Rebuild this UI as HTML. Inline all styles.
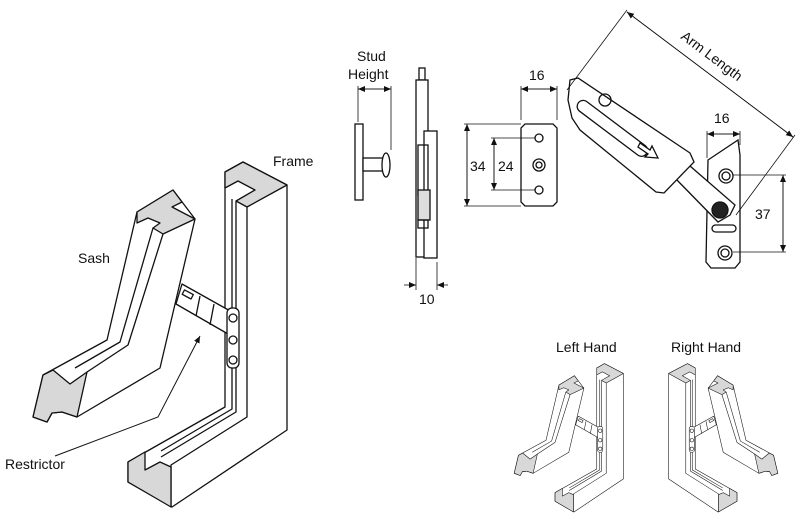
<!DOCTYPE html>
<html><head><meta charset="utf-8"><style>
html,body{margin:0;padding:0;background:#fff;}
svg{display:block;}
text{font-family:"Liberation Sans",Arial,sans-serif;fill:#111;}
</style></head><body>
<svg width="800" height="525" viewBox="0 0 800 525" xmlns="http://www.w3.org/2000/svg">
<defs>
<marker id="ar" markerWidth="8" markerHeight="8" refX="7" refY="4" orient="auto" markerUnits="userSpaceOnUse"><path d="M0,1 L7,4 L0,7 z" fill="#111"/></marker>
<g id="fig" stroke="#111" stroke-width="1.3" stroke-linejoin="round" fill="none">
  <polygon points="225,172 243,162 287,185 287,430 172,507 128,482 128,462 225,407" fill="#fff"/>
  <polygon points="225,172 243,162 287,185 247,207 236,201 255,190 238,181 225,188" fill="#d8d8d8"/>
  <polyline points="247,207 247,417 171,465 171,507"/>
  <polyline points="236,201 236,412 161,457"/>
  <polyline points="232,199 232,409 161,451"/>
  <polygon points="128,462 145,452 145,470 160,462 171,467 171,507 128,482" fill="#d8d8d8"/>
  <polygon points="182,284 232,312 228,334 176,304" fill="#fff"/>
  <line x1="200" y1="296" x2="196" y2="316"/>
  <line x1="214" y1="304" x2="210" y2="325"/>
  <rect x="183" y="292" width="10" height="5" transform="rotate(28 188 294)"/>
  <rect x="227" y="308" width="12" height="60" rx="5" fill="#fff"/>
  <circle cx="233" cy="318" r="4"/><circle cx="233" cy="340" r="4"/><circle cx="233" cy="360" r="4"/>
  <polygon points="137,212 173,190 195,219 160,368 77,417 62,412 52,413 47,422 33,417 43,375 107,340" fill="#fff"/>
  <polygon points="137,212 173,190 182,202 172,207 195,219 163,234 153,228 160,223 148,218 137,223" fill="#d8d8d8"/>
  <polyline points="163,234 128,345 87,372"/>
  <polyline points="153,228 120,342 75,368"/>
  <polygon points="43,375 53,370 70,384 87,372 77,417 62,412 52,413 47,422 33,417" fill="#d8d8d8"/>
</g>
</defs>

<use href="#fig"/>
<text x="78" y="263" font-size="14">Sash</text>
<text x="273" y="166" font-size="14">Frame</text>
<text x="5" y="469" font-size="14">Restrictor</text>
<polyline points="55,456 158,417 200,336" fill="none" stroke="#111" stroke-width="1" marker-end="url(#ar)"/>

<g transform="translate(500,294) scale(0.43)"><use href="#fig"/></g>
<g transform="translate(792,294) scale(-0.43,0.43)"><use href="#fig"/></g>
<text x="556" y="352" font-size="14">Left Hand</text>
<text x="671" y="352" font-size="14">Right Hand</text>

<g stroke="#111" stroke-width="1.3" fill="none">
  <rect x="355" y="124" width="8" height="76" fill="#fff"/>
  <rect x="363" y="158" width="20" height="13" fill="#fff"/>
  <ellipse cx="386" cy="165" rx="4" ry="12" fill="#fff"/>
  <rect x="419" y="68" width="6" height="12"/>
  <rect x="416" y="80" width="12" height="177" fill="#fff"/>
  <rect x="424" y="131" width="13" height="127" fill="#fff"/>
  <rect x="418" y="145" width="10" height="50"/>
  <rect x="418" y="190" width="12" height="30" fill="#ddd"/>
  <rect x="418" y="220" width="10" height="8"/>
  <polygon points="525,124 553,124 557,128 557,202 553,206 525,206 521,202 521,128" fill="#fff"/>
  <circle cx="539" cy="138" r="4"/><circle cx="539" cy="190" r="4"/>
  <circle cx="539" cy="165" r="6"/><circle cx="539" cy="165" r="3"/>
  <polygon points="708,160 738,140 740,155 740,262 735,268 711,268 706,262" fill="#fff"/>
  <polygon points="675,178 690,166 735,205 730,215 718,222" fill="#fff"/>
  <polygon points="570,80 578,78 690,153 694,162 664,193 656,192 580,130 572,118 568,100" fill="#fff"/>
  <rect x="582" y="98" width="85" height="12" rx="6" transform="rotate(37 582 98)" fill="#fff"/>
  <path d="M640,143 l10,7 l2,-4 l6,12 l-13,-1 l3,-3 l-10,-7 z" fill="#fff"/>
  <circle cx="605" cy="100" r="6"/>
  <circle cx="726" cy="176" r="7"/><circle cx="726" cy="176" r="4"/>
  <circle cx="720" cy="210" r="8" fill="#222"/>
  <rect x="712" y="225" width="24" height="7" rx="3.5"/>
  <circle cx="725" cy="253" r="7"/><circle cx="725" cy="253" r="4"/>
</g>

<g stroke="#111" stroke-width="0.8" fill="none">
  <line x1="358" y1="86" x2="358" y2="122"/><line x1="391" y1="86" x2="391" y2="150"/>
  <line x1="358" y1="89" x2="391" y2="89" marker-end="url(#ar)"/><line x1="391" y1="89" x2="358" y2="89" marker-end="url(#ar)"/>
  <line x1="416" y1="258" x2="416" y2="290"/><line x1="437" y1="262" x2="437" y2="290"/>
  <line x1="404" y1="285" x2="416" y2="285" marker-end="url(#ar)"/><line x1="448" y1="285" x2="437" y2="285" marker-end="url(#ar)"/>
  <line x1="521" y1="86" x2="521" y2="120"/><line x1="557" y1="86" x2="557" y2="120"/>
  <line x1="521" y1="89" x2="557" y2="89" marker-end="url(#ar)"/><line x1="557" y1="89" x2="521" y2="89" marker-end="url(#ar)"/>
  <line x1="464" y1="124" x2="521" y2="124"/><line x1="464" y1="206" x2="521" y2="206"/>
  <line x1="467" y1="124" x2="467" y2="206" marker-end="url(#ar)"/><line x1="467" y1="206" x2="467" y2="124" marker-end="url(#ar)"/>
  <line x1="491" y1="138" x2="535" y2="138"/><line x1="491" y1="190" x2="535" y2="190"/>
  <line x1="494" y1="138" x2="494" y2="190" marker-end="url(#ar)"/><line x1="494" y1="190" x2="494" y2="138" marker-end="url(#ar)"/>
  <line x1="627" y1="10" x2="567" y2="90"/><line x1="795" y1="135" x2="736" y2="215"/>
  <line x1="627" y1="12" x2="793" y2="137" marker-end="url(#ar)"/><line x1="793" y1="137" x2="627" y2="12" marker-end="url(#ar)"/>
  <line x1="707" y1="131" x2="707" y2="158"/><line x1="740" y1="131" x2="740" y2="145"/>
  <line x1="707" y1="134" x2="740" y2="134" marker-end="url(#ar)"/><line x1="740" y1="134" x2="707" y2="134" marker-end="url(#ar)"/>
  <line x1="733" y1="175" x2="786" y2="175"/><line x1="733" y1="252" x2="786" y2="252"/>
  <line x1="783" y1="175" x2="783" y2="252" marker-end="url(#ar)"/><line x1="783" y1="252" x2="783" y2="175" marker-end="url(#ar)"/>
</g>

<text x="357" y="61" font-size="14">Stud</text>
<text x="348" y="79" font-size="14">Height</text>
<text x="419" y="304" font-size="14">10</text>
<text x="529" y="80" font-size="14">16</text>
<text x="470" y="171" font-size="14">34</text>
<text x="498" y="171" font-size="14">24</text>
<text x="714" y="123" font-size="14">16</text>
<text x="755" y="219" font-size="14">37</text>
<text x="0" y="0" font-size="14" transform="translate(680,38) rotate(37)">Arm Length</text>
</svg>
</body></html>
